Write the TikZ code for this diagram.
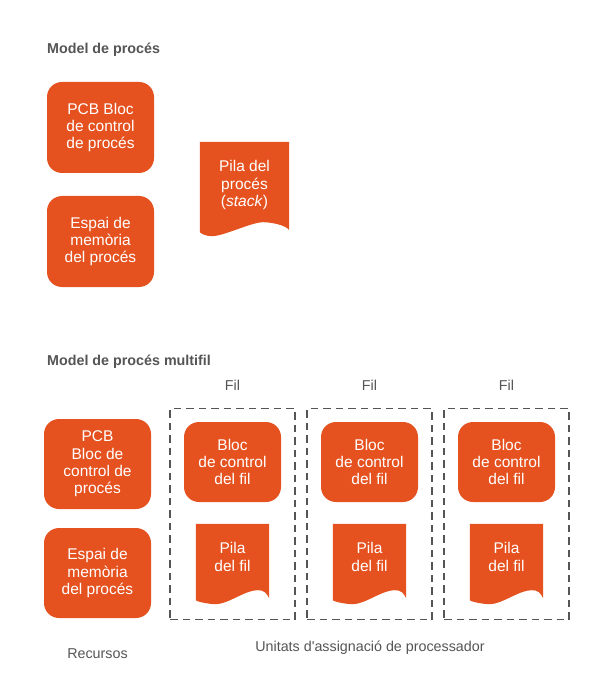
\documentclass[tikz,border=0pt]{standalone}
\usepackage{fontspec}
\setmainfont{Liberation Sans}
\usepackage{xcolor}
\usetikzlibrary{positioning,backgrounds}

\definecolor{taronja}{RGB}{229,82,32}
\definecolor{grisfosc}{RGB}{85,85,85}

% fons de la pila amb la vora inferior ondulada
\newcommand{\onapila}[4]{%
  \begin{scope}[on background layer]
  \fill[taronja] (#1.north west) -- (#1.north east) -- ([yshift=#4pt-8pt]#1.south east)
    .. controls ([xshift=-3pt,yshift=#4pt-3pt]#1.south east) and ([xshift=-#2pt+8pt,yshift=#4pt]#1.south east) .. ([xshift=-#2pt,yshift=#4pt]#1.south east)
    .. controls ([xshift=-#2pt-12pt,yshift=#4pt]#1.south east) and ([xshift=#3pt+12pt,yshift=#4pt-14pt]#1.south west) .. ([xshift=#3pt,yshift=#4pt-14pt]#1.south west)
    .. controls ([xshift=#3pt-5pt,yshift=#4pt-14pt]#1.south west) and ([xshift=2pt,yshift=#4pt-12pt]#1.south west) .. ([yshift=#4pt-10pt]#1.south west) -- cycle;
  \end{scope}}

\begin{document}
\begin{tikzpicture}[x=1pt, y=-1pt,
  blocnode/.style={rectangle, rounded corners=15pt, fill=taronja, text=white, align=center, inner sep=0pt, font=\fontsize{15.5}{17.4}\selectfont},
  pilanode/.style={rectangle, text=white, align=center, inner sep=0pt, font=\fontsize{15.5}{17.4}\selectfont},
  filbox/.style={rectangle, draw=grisfosc, line width=1.6pt, dash pattern=on 7.5pt off 5pt, minimum width=125pt, minimum height=211pt},
  titol/.style={anchor=west, inner sep=0pt, text=grisfosc, font=\bfseries\fontsize{14.3}{17}\selectfont},
  etiqueta/.style={text=grisfosc, font=\fontsize{14.3}{17}\selectfont}]

\useasboundingbox (0,0) rectangle (614,700);
\begin{scope}[on background layer]
\fill[white] (0,0) rectangle (614,700);
\end{scope}

% model de proces
\node[titol] (titol1) at (47,50) {Model de procés};
\node[blocnode, minimum width=107pt, minimum height=91pt] (pcb1) at (100.5,127.5) {PCB Bloc\\de control\\de procés};
\node[blocnode, minimum width=107pt, minimum height=91pt] (espai1) at (100.5,241.5) {Espai de\\memòria\\del procés};
\node[pilanode, minimum width=89pt, minimum height=86pt] (pila1) at (244.5,185) {Pila del\\procés\\(\textit{stack})};
\onapila{pila1}{26}{12}{6}

% model de proces multifil
\node[titol] (titol2) at (47,362) {Model de procés multifil};
\node[blocnode, minimum width=107pt, minimum height=90pt] (pcb2) at (97.5,464) {PCB\\Bloc de\\control de\\procés};
\node[blocnode, minimum width=107pt, minimum height=90pt] (espai2) at (97.5,573) {Espai de\\memòria\\del procés};
\node[etiqueta] (recursos) at (97.5,654) {Recursos};

\node[filbox] (fil1) at (232.5,514) {};
\node[filbox] (fil2) at (369.5,514) {};
\node[filbox] (fil3) at (506.5,514) {};

\node[etiqueta] (etfil1) at (232.5,385) {Fil};
\node[etiqueta] (etfil2) at (369.5,385) {Fil};
\node[etiqueta] (etfil3) at (506.5,385) {Fil};

\node[blocnode, minimum width=97pt, minimum height=80pt] (bloc1) at (232.5,462) {Bloc\\de control\\del fil};
\node[blocnode, minimum width=97pt, minimum height=80pt] (bloc2) at (369.5,462) {Bloc\\de control\\del fil};
\node[blocnode, minimum width=97pt, minimum height=80pt] (bloc3) at (506.5,462) {Bloc\\de control\\del fil};

\node[pilanode, minimum width=73pt, minimum height=66pt] (pilafil1) at (232.5,557) {Pila\\del fil};
\node[pilanode, minimum width=73pt, minimum height=66pt] (pilafil2) at (369.5,557) {Pila\\del fil};
\node[pilanode, minimum width=73pt, minimum height=66pt] (pilafil3) at (506.5,557) {Pila\\del fil};
\onapila{pilafil1}{12}{20}{0}
\onapila{pilafil2}{12}{20}{0}
\onapila{pilafil3}{12}{20}{0}

\node[etiqueta] (unitats) at (370,648) {Unitats d\textquotesingle assignació de processador};

\end{tikzpicture}
\end{document}
